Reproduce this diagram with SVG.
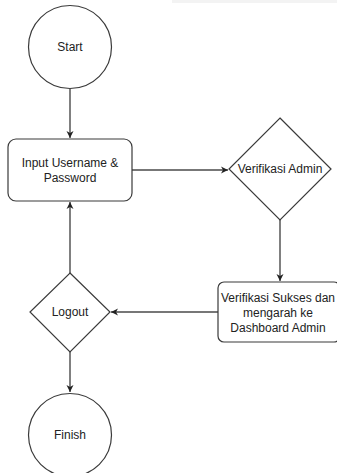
<svg xmlns="http://www.w3.org/2000/svg" width="337" height="473" viewBox="0 0 337 473">
<style>
.s{fill:#fff;stroke:#3a3a3a;stroke-width:1.2}
.c{fill:none;stroke:#4a4a4a;stroke-width:1.4}
text{font-family:"Liberation Sans",Arial,sans-serif;font-size:12px;fill:#222;text-anchor:middle}
</style>
<defs>
<marker id="a" markerWidth="8" markerHeight="8" refX="7" refY="4" orient="auto" markerUnits="userSpaceOnUse">
<path d="M0,0.5 L7,4 L0,7.5 L2,4 Z" fill="#222"/>
</marker>
</defs>
<rect x="172" y="0" width="165" height="3" fill="#f3f3f3"/>
<g id="connectors">
<line class="c" x1="70" y1="89" x2="70" y2="138" marker-end="url(#a)"/>
<line class="c" x1="132" y1="170" x2="228" y2="170" marker-end="url(#a)"/>
<line class="c" x1="280" y1="220" x2="280" y2="281" marker-end="url(#a)"/>
<line class="c" x1="218" y1="312" x2="111" y2="312" marker-end="url(#a)"/>
<line class="c" x1="70" y1="273" x2="70" y2="202" marker-end="url(#a)"/>
<line class="c" x1="70" y1="352" x2="70" y2="392" marker-end="url(#a)"/>
</g>
<g id="start">
<circle class="s" cx="70" cy="47" r="41.5"/>
<text x="70" y="51">Start</text>
</g>
<g id="input">
<rect class="s" x="8" y="139" width="124" height="62" rx="8"/>
<text x="70" y="167">Input Username &amp;</text>
<text x="70" y="182">Password</text>
</g>
<g id="verifikasi">
<polygon class="s" points="280,118 331,169 280,220 229,169"/>
<text x="280" y="173">Verifikasi Admin</text>
</g>
<g id="sukses">
<rect class="s" x="218" y="282" width="122" height="60" rx="6"/>
<text x="278" y="302">Verifikasi Sukses dan</text>
<text x="278" y="317">mengarah ke</text>
<text x="278" y="332">Dashboard Admin</text>
</g>
<g id="logout">
<polygon class="s" points="70,273 110,312 70,352 30,312"/>
<text x="70" y="316">Logout</text>
</g>
<g id="finish">
<circle class="s" cx="70" cy="435" r="41.5"/>
<text x="70" y="439">Finish</text>
</g>
</svg>
